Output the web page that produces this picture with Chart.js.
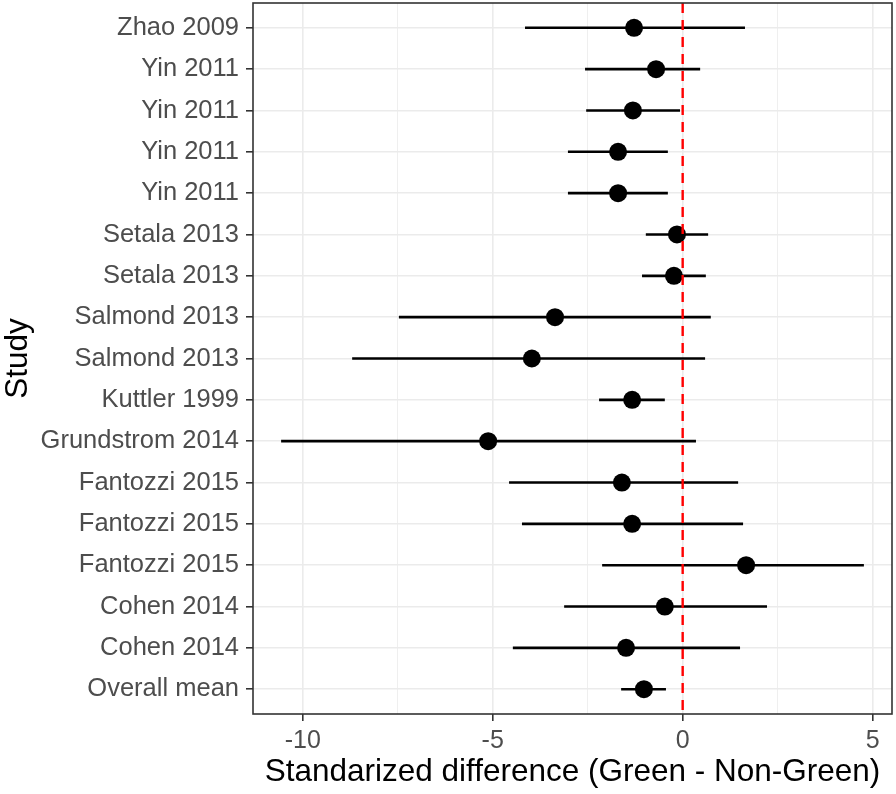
<!DOCTYPE html>
<html>
<head>
    <meta charset="UTF-8">
    <title>Forest plot</title>
    <script src="https://cdn.jsdelivr.net/npm/chart.js"></script>
    <style>
        html, body { margin: 0; padding: 0; background: #ffffff; }
        #wrap { width: 896px; height: 794px; }
    </style>
</head>
<body>
<div id="wrap"><canvas id="forest"></canvas></div>
<script>
    // studies, top to bottom
    const studies = ['Zhao 2009', 'Yin 2011', 'Yin 2011', 'Yin 2011', 'Yin 2011', 'Setala 2013', 'Setala 2013',
        'Salmond 2013', 'Salmond 2013', 'Kuttler 1999', 'Grundstrom 2014', 'Fantozzi 2015', 'Fantozzi 2015',
        'Fantozzi 2015', 'Cohen 2014', 'Cohen 2014', 'Overall mean'];
    const estimate = [-1.28, -0.70, -1.31, -1.70, -1.70, -0.15, -0.23, -3.36, -3.97, -1.33, -5.12, -1.60, -1.33,
        1.67, -0.47, -1.49, -1.02];
    const lower = [-4.15, -2.57, -2.54, -3.02, -3.02, -0.97, -1.07, -7.47, -8.70, -2.20, -10.57, -4.57, -4.23,
        -2.12, -3.12, -4.47, -1.62];
    const upper = [1.64, 0.46, -0.07, -0.39, -0.39, 0.67, 0.61, 0.74, 0.59, -0.47, 0.35, 1.46, 1.59,
        4.77, 2.22, 1.51, -0.44];
    const xTicks = [-10, -7.5, -5, -2.5, 0, 2.5, 5];
    const majorX = [-10, -5, 0, 5];

    const grey92 = '#ebebeb';
    const grey20 = '#333333';

    const datasets = [];
    datasets.push({
        label: 'zero',
        data: [{x: 0, y: -0.6}, {x: 0, y: studies.length - 0.4}],
        showLine: true,
        borderColor: '#ff0000',
        borderWidth: 2.4,
        borderDash: [10, 7],
        pointRadius: 0,
        order: 0
    });
    datasets.push({
        label: 'estimate',
        data: estimate.map((v, i) => ({x: v, y: i})),
        backgroundColor: '#000000',
        borderColor: '#000000',
        pointRadius: 9,
        pointBorderWidth: 0,
        order: 1
    });
    studies.forEach((s, i) => {
        datasets.push({
            label: s,
            data: [{x: lower[i], y: i}, {x: upper[i], y: i}],
            showLine: true,
            borderColor: '#000000',
            borderWidth: 2.6,
            pointRadius: 0,
            order: 2
        });
    });

    const panelBorder = {
        id: 'panelBorder',
        afterDatasetsDraw(chart) {
            const {ctx, chartArea: a} = chart;
            ctx.save();
            ctx.strokeStyle = grey20;
            ctx.lineWidth = 1.6;
            ctx.strokeRect(a.left, a.top, a.right - a.left, a.bottom - a.top);
            ctx.restore();
        }
    };

    function noPad(sc) {
        sc.paddingTop = 0;
        sc.paddingBottom = 0;
        sc.paddingLeft = 0;
        sc.paddingRight = 0;
    }

    new Chart(document.getElementById('forest'), {
        type: 'scatter',
        data: {datasets: datasets},
        options: {
            responsive: true,
            maintainAspectRatio: false,
            animation: false,
            layout: {autoPadding: false, padding: {top: 3, right: 4, left: 0, bottom: 0}},
            plugins: {legend: {display: false}, tooltip: {enabled: false}},
            scales: {
                x: {
                    type: 'linear',
                    min: -11.31,
                    max: 5.51,
                    afterBuildTicks: sc => { sc.ticks = xTicks.map(v => ({value: v})); },
                    afterFit: sc => { sc.height = 80; noPad(sc); },
                    grid: {
                        color: grey92,
                        lineWidth: c => majorX.includes(c.tick.value) ? 1.6 : 0.8,
                        tickColor: c => majorX.includes(c.tick.value) ? grey20 : 'rgba(0,0,0,0)',
                        tickLength: 7,
                        tickWidth: 1.6
                    },
                    border: {display: false},
                    ticks: {
                        autoSkip: false,
                        maxRotation: 0,
                        padding: 5,
                        color: '#4d4d4d',
                        font: {family: 'Liberation Sans', size: 25},
                        callback: v => majorX.includes(v) ? String(v) : ''
                    },
                    title: {
                        display: true,
                        text: 'Standarized difference (Green - Non-Green)',
                        color: '#000000',
                        font: {family: 'Liberation Sans', size: 31.5, lineHeight: 1.1},
                        padding: {top: 0, bottom: 4}
                    }
                },
                y: {
                    type: 'linear',
                    reverse: true,
                    min: -0.6,
                    max: studies.length - 0.4,
                    afterBuildTicks: sc => { sc.ticks = studies.map((s, i) => ({value: i})); },
                    afterFit: sc => { sc.width = 253; noPad(sc); },
                    grid: {
                        color: grey92,
                        lineWidth: 1.6,
                        tickColor: grey20,
                        tickLength: 7,
                        tickWidth: 1.6
                    },
                    border: {display: false},
                    ticks: {
                        autoSkip: false,
                        padding: 7,
                        color: '#4d4d4d',
                        font: {family: 'Liberation Sans', size: 25.5},
                        callback: v => studies[v]
                    },
                    title: {
                        display: true,
                        text: 'Study',
                        color: '#000000',
                        font: {family: 'Liberation Sans', size: 31.5, lineHeight: 1.0},
                        padding: {top: 3, bottom: 0}
                    }
                }
            }
        },
        plugins: [panelBorder]
    });
</script>
</body>
</html>
